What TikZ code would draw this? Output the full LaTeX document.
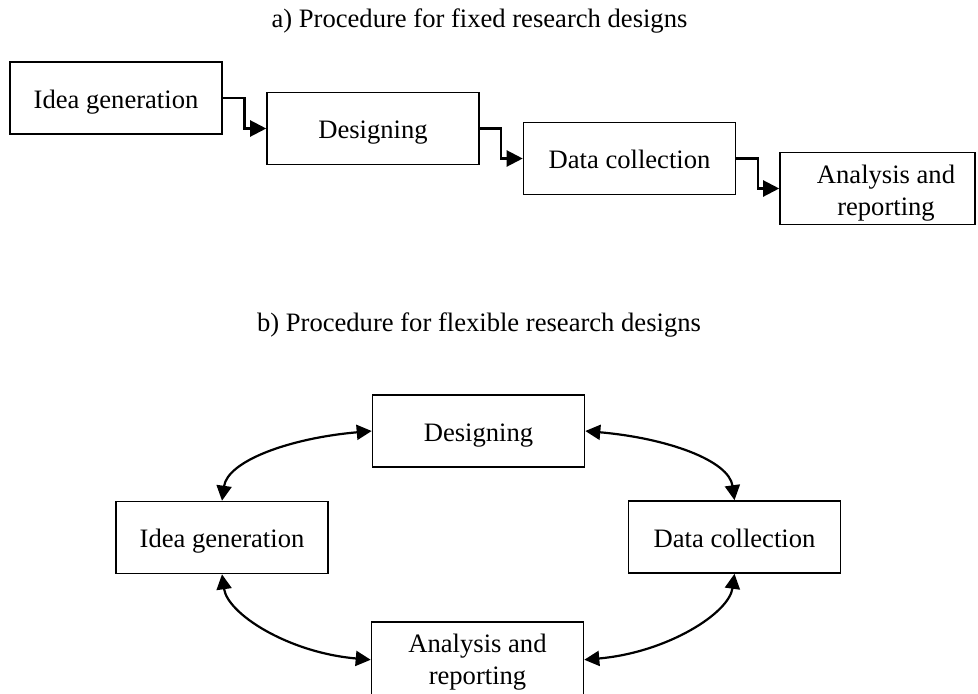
\documentclass[tikz,border=0pt]{standalone}
\usepackage{fontspec}
\setmainfont{Liberation Serif}
\usetikzlibrary{arrows.meta,calc}
\begin{document}
\begin{tikzpicture}[x=0.5pt,y=0.5pt,
  every node/.style={font=\fontsize{13.3}{16}\selectfont},
  tbox/.style={draw, line width=0.8pt, minimum width=106pt, minimum height=36pt, inner sep=0pt, text height=12pt, text depth=2pt},
  ebox/.style={draw, line width=0.8pt, minimum height=36pt, inner sep=0pt},
  txt/.style={inner sep=0pt, align=center},
  conn/.style={line width=1.1pt, -{Triangle[length=8pt,width=8pt]}},
  dconn/.style={line width=1.1pt, {Triangle[length=7.5pt,width=7.5pt]}-{Triangle[length=7.5pt,width=7.5pt]}}]
\useasboundingbox (0,0) rectangle (978,693);
% titles
\node[txt, anchor=base] (ta) at (479.5,666) {a) Procedure for fixed research designs};
\node[txt, anchor=base] (tb) at (479,362) {b) Procedure for flexible research designs};
% top row
\node[tbox] (I1) at (116,595) {Idea generation};
\node[tbox] (D1) at (373,564.5) {Designing};
\node[tbox] (C1) at (629.5,534.5) {Data collection};
\node[ebox, minimum width=97.5pt] (A1) at (877.5,504.5) {};
\node[txt, anchor=base] (A1t) at (886,478) {Analysis and\\reporting};
\coordinate (m1) at ($(I1.east)!0.5!(D1.west)$);
\coordinate (m2) at ($(D1.east)!0.5!(C1.west)$);
\coordinate (m3) at ($(C1.east)!0.5!(A1.west)$);
\draw[conn] (I1.east) -| (m1) |- (D1.west);
\draw[conn] (D1.east) -| (m2) |- (C1.west);
\draw[conn] (C1.east) -| (m3) |- (A1.west);
% bottom cycle
\node[tbox] (D2) at (478.5,262) {Designing};
\node[tbox] (I2) at (222,155.5) {Idea generation};
\node[tbox] (C2) at (734.5,156) {Data collection};
\node[ebox, minimum width=106pt, minimum height=37.5pt] (A2) at (477.5,33.25) {};
\node[txt, anchor=base] (A2t) at (477.5,9) {Analysis and\\reporting};
\draw[dconn] (D2.west) .. controls +(185:83) and +(82:40) .. (I2.north);
\draw[dconn] (D2.east) .. controls +(-5:83) and +(98:40) .. (C2.north);
\draw[dconn] (I2.south) .. controls +(-82:40) and +(175:83) .. (A2.west);
\draw[dconn] (C2.south) .. controls +(-98:40) and +(5:83) .. (A2.east);
\end{tikzpicture}
\end{document}
